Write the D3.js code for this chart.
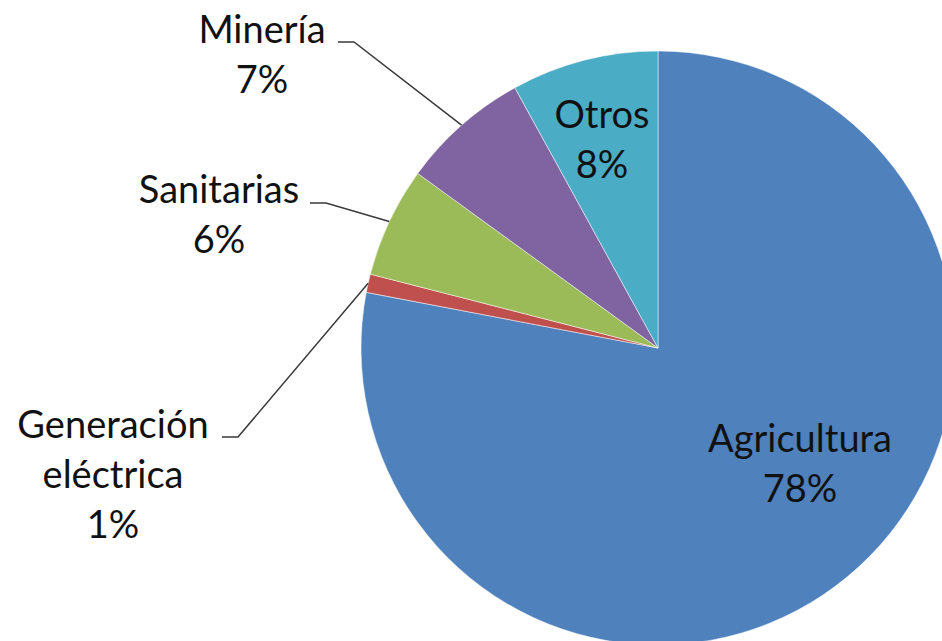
<!DOCTYPE html>
<html>
<head>
<meta charset="utf-8">
<script src="https://cdn.jsdelivr.net/npm/d3@7"></script>
<style>
  body { margin: 0; background: #fff; }
  svg { display: block; }
</style>
</head>
<body>
<script>
// size
var w = 942;
var h = 641;

// data
var categories = ["Agricultura", "Generación eléctrica", "Sanitarias", "Minería", "Otros"];
var values = [78, 1, 6, 7, 8];
var colors = ["#4F81BD", "#C0504D", "#9BBB59", "#8064A2", "#4BACC6"];

// label text lines per slice
var labelLines = [
	["Agricultura", "78%"],
	["Generación", "eléctrica", "1%"],
	["Sanitarias", "6%"],
	["Minería", "7%"],
	["Otros", "8%"]
];

// layout
var cx = 658, cy = 348, radius = 297;
var lineHeight = 50;
var fontSize = 38;
var labelPos = [
	{x: 800, y: 452, inside: true},
	{x: 113, y: 438, lx: 222, ly: 437},
	{x: 219, y: 203, lx: 310, ly: 203},
	{x: 262, y: 43, lx: 338, ly: 42},
	{x: 602, y: 128, inside: true}
];

var data = categories.map(function(c, i) {
	return {name: c, value: values[i], color: colors[i], lines: labelLines[i], pos: labelPos[i]};
});

var svg = d3.select("body")
	.append("svg")
	.attr("width", w)
	.attr("height", h);

var pie = d3.pie()
	.sort(null)
	.value(function(d) { return d.value; });

var arc = d3.arc()
	.innerRadius(0)
	.outerRadius(radius);

var arcs = pie(data);

var g = svg.append("g")
	.attr("transform", "translate(" + cx + "," + cy + ")");

g.selectAll("path")
	.data(arcs)
	.enter()
	.append("path")
	.attr("d", arc)
	.attr("fill", function(d) { return d.data.color; })
	.attr("stroke", "#fff")
	.attr("stroke-width", 0.5);

// leader lines for outside labels
arcs.forEach(function(d) {
	var p = d.data.pos;
	if (p.inside) return;
	var mid = (d.startAngle + d.endAngle) / 2;
	var ex = cx + radius * Math.sin(mid);
	var ey = cy - radius * Math.cos(mid);
	svg.append("polyline")
		.attr("points", [[p.lx, p.ly], [p.lx + 16, p.ly], [ex, ey]].join(" "))
		.attr("fill", "none")
		.attr("stroke", "#3a3a3a")
		.attr("stroke-width", 1.5);
});

// labels
arcs.forEach(function(d) {
	var p = d.data.pos;
	var t = svg.append("text")
		.attr("text-anchor", "middle")
		.attr("font-family", "Lato, 'Open Sans', sans-serif")
		.attr("font-size", fontSize + "px")
		.attr("fill", "#111");
	d.data.lines.forEach(function(line, i) {
		t.append("tspan")
			.attr("x", p.x)
			.attr("y", p.y + i * lineHeight)
			.text(line);
	});
});
</script>
</body>
</html>
